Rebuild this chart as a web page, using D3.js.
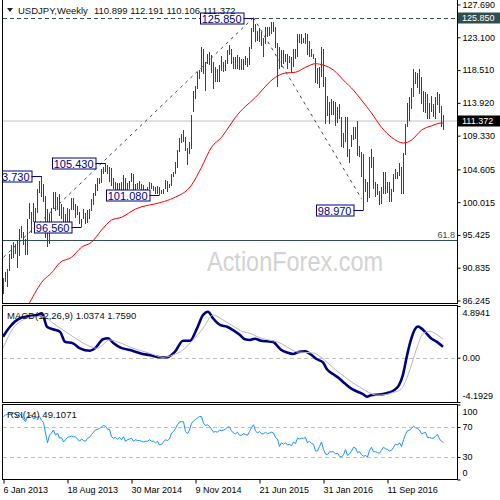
<!DOCTYPE html>
<html><head><meta charset="utf-8">
<script src="https://cdn.jsdelivr.net/npm/d3@7/dist/d3.min.js"></script>
<style>
body{margin:0;background:#fff}
svg{display:block}
text{font-family:"Liberation Sans",Arial,sans-serif}
</style>
</head><body>
<svg id="c" width="500" height="500"></svg>
<script>
// ---------- DATA ----------
const symbolTitle = "USDJPY,Weekly";
const lastOHLC = ["110.899", "112.191", "110.106", "111.372"];
const currentPrice = 111.372;

// weekly highs / lows, week 0 = 6 Jan 2013 ... week 220 = 26 Mar 2017
const highs = [
89.35,90.20,90.70,92.80,94.06,94.40,94.20,94.77,96.20,96.70,
95.90,94.90,97.60,99.95,98.60,99.95,99.20,101.90,103.00,103.73,
102.50,100.90,99.00,98.30,99.20,101.50,101.50,100.80,101.20,99.70,
99.30,98.30,99.20,99.10,100.60,100.60,99.70,99.50,98.60,97.70,
99.00,98.50,98.90,99.10,100.40,101.30,102.50,103.40,103.40,104.60,
105.00,105.43,
105.20,104.90,104.80,103.40,102.80,102.70,102.70,102.90,103.80,103.40,
102.70,103.00,104.10,103.90,102.60,102.70,103.00,102.50,102.40,101.90,
102.20,102.80,102.70,102.30,102.20,102.30,102.10,101.70,101.90,103.10,
103.00,102.50,104.00,104.20,105.70,107.30,109.00,109.50,110.10,109.10,
107.60,108.40,112.20,115.60,116.30,118.20,118.50,121.80,121.50,119.60,
120.80,121.00,
120.60,119.60,118.90,118.70,119.20,120.50,119.70,119.90,121.30,122.00,
121.40,120.30,120.40,120.60,120.40,120.10,120.00,120.50,120.20,121.80,
124.40,125.85,125.00,124.00,124.40,123.80,123.00,124.50,124.60,124.60,
125.30,125.30,124.60,122.30,121.70,121.30,121.30,120.80,120.70,120.50,
120.30,121.50,121.50,123.60,123.60,123.60,123.00,123.70,123.50,122.60,
121.50,120.80,
120.20,118.80,118.90,121.70,121.50,117.60,114.90,114.00,114.50,114.20,
114.00,113.30,113.80,111.90,109.70,111.90,111.90,107.50,109.40,110.60,
110.50,111.40,107.90,107.00,106.80,103.30,102.90,106.30,107.50,106.40,
102.80,102.60,101.60,102.10,104.20,104.20,102.80,102.80,101.80,104.00,
104.60,104.20,105.50,105.00,106.90,111.00,113.90,114.80,116.00,118.66,
118.20,118.10,
118.60,117.50,115.60,115.40,115.20,113.90,114.90,113.80,114.70,115.50,
115.20,113.50,112.191
];
const lows = [
87.10,88.80,88.10,90.40,92.10,92.20,92.80,90.85,92.50,95.00,
94.00,92.60,92.60,97.60,95.70,97.30,97.10,98.50,101.30,100.70,
100.00,94.98,93.79,94.20,96.90,99.00,98.80,98.90,98.10,97.60,
96.10,95.80,97.00,96.80,98.90,98.90,97.80,98.20,96.90,96.56,
97.70,96.90,97.10,97.60,98.80,99.60,100.90,101.60,102.60,102.70,
104.00,104.20,
103.90,102.90,102.30,101.80,100.76,101.40,101.30,101.70,101.20,101.20,
101.20,101.90,102.80,101.30,101.40,101.90,101.80,101.40,101.30,100.80,
101.50,101.80,101.90,101.60,101.20,101.20,101.08,101.10,101.10,101.80,
101.50,102.00,102.30,103.50,103.90,104.80,107.00,108.30,108.50,107.20,
105.20,106.80,107.40,112.60,114.50,115.90,117.20,118.20,117.90,115.60,
119.40,119.20,
118.10,115.90,116.90,116.90,116.90,118.40,118.20,118.40,119.40,120.60,
119.30,118.70,118.70,118.70,118.50,118.50,118.50,119.20,118.90,119.20,
121.50,123.90,122.40,122.60,122.50,121.90,120.40,122.10,123.10,123.30,
123.60,123.80,121.60,116.20,118.60,118.90,119.30,119.60,118.70,119.50,
118.10,118.90,120.00,120.30,122.30,122.20,122.30,122.20,120.60,120.40,
120.30,120.10,
116.70,116.50,115.97,117.60,116.20,110.98,112.10,111.00,112.20,112.20,
110.70,111.10,111.60,107.70,107.60,108.50,106.30,105.55,107.80,108.70,
108.80,106.50,106.30,103.60,98.97,101.40,99.99,100.60,104.80,101.90,
100.70,101.00,99.55,99.80,101.20,101.20,101.30,100.10,100.10,101.40,
103.30,103.20,103.70,101.20,101.20,106.60,110.60,111.40,113.00,114.80,
116.50,116.00,
115.10,113.80,112.60,112.50,111.60,111.60,112.60,111.90,111.70,113.60,
112.50,110.60,110.106
];

// moving average (red), read at these weeks
const maWeek  = [13,20,24,28,34,39,44,49,54,59,66,79,85,94,99,104,109,114,116,126,136,141,146,151,156,160,165,171,174,179,184,189,194,200,204,209,214,219,220];
const maValue = [85.9,89.1,90.1,91.5,92.3,93.7,94.4,96.1,97.5,97.9,99.05,100.0,100.6,102.4,104.9,107.7,109.1,111.1,111.9,114.7,117.5,118.1,118.2,118.9,119.4,119.2,118.5,116.8,116.0,114.3,112.5,110.5,109.1,108.3,108.7,110.1,110.7,111.1,111.1];

// MACD(12,26,9)
const macdWeek  = [0,3.5,8.5,13.5,17,19.5,22,25,28.5,31,35,38.5,43.5,46,50,52.5,55,58.5,63.5,68.5,73.5,78.5,82,86,90,93.5,97,100,102.5,105,108.5,112,115,118.5,121,123.5,126,129,132,135,137,139,142,145,148,151,154,157,160,162,165,168,171,174,177,180,182,184,187,190,193,196,198,200,202,204,206,207.5,209,211,214,217,220];
const macdValue = [1.99,2.93,3.73,3.95,4.04,4.20,2.93,2.69,2.46,1.51,1.36,0.89,0.66,0.89,1.74,1.84,1.42,0.98,0.73,0.42,0.23,0.04,0.04,0.57,1.61,1.61,2.78,4.04,4.35,3.73,3.10,2.93,2.62,2.15,1.74,1.68,1.80,1.60,1.55,1.50,1.15,0.75,0.50,0.35,0.55,0.60,0.30,-0.15,-0.45,-1.10,-1.55,-1.95,-2.45,-2.90,-3.20,-3.45,-3.70,-3.55,-3.50,-3.45,-3.30,-3.00,-2.60,-1.60,0.20,1.70,2.70,2.95,2.80,2.45,1.85,1.50,1.04];
const signalWeek  = [0,5,10,15,20,25,30,35,42,47,53.5,58.5,65,73.5,80,85,90,95,100,105,110,115,120,123.5,127,131,135,139,143,147,151,155,159,163,167,171,175,179,183,187,191,195,199,202,205,208,210,213.5,216,218,220];
const signalValue = [0.89,2.78,3.57,3.88,3.88,3.26,2.62,1.99,1.20,0.89,1.68,1.42,0.89,0.42,0.04,0.26,0.73,1.68,2.78,4.04,3.57,3.00,2.46,2.31,2.00,1.75,1.60,1.35,0.90,0.55,0.50,0.45,0.05,-0.60,-1.25,-1.85,-2.40,-2.85,-3.30,-3.55,-3.50,-3.30,-3.00,-1.90,-0.20,1.50,2.30,2.50,2.30,2.05,1.76];
const macdLabel = "MACD(12,26,9) 1.0374 1.7590";

// RSI(14), one value per week
const rsiValues = [
84,86,87,89,88,89,88,83,88,85, 80,77,84,85,86,81,82,83,84,79,
76,62,49,59,62,66,59,62,55,56, 50,53,56,57,58,57,57,54,51,54,
52,51,55,56,60,63,66,67,68,70, 72,71,67,67,57,55,56,54,56,53,
57,51,53,54,55,51,53,52,52,51, 50,51,51,53,51,51,49,51,46,47,
50,53,52,54,62,64,68,73,77,77, 77,64,61,66,75,78,80,82,84,84,
75,72,73,71,67,63,64,63,66,65, 66,67,70,70,65,62,61,63,59,59,
61,60,59,64,69,73,65,62,64,61, 61,63,61,62,63,62,56,54,44,49,
47,49,46,47,45,50,48,55,54,55, 55,56,49,51,48,47,38,38,44,50,
40,34,33,37,37,37,34,35,31,30, 33,40,32,34,38,43,42,36,37,33,
31,32,30,39,43,37,37,36,35,39, 43,41,40,38,39,43,47,46,49,44,
53,60,65,66,68,71,69,68,66,61, 62,63,56,56,55,55,58,60,54,51,
49.1071
];
const rsiLabel = "RSI(14) 49.1071";

// axes
const priceTicks = [127.690,123.100,118.510,113.920,109.330,104.605,100.015,95.425,90.835,86.245];
const macdTicks = [4.8941, 0, -4.1929];
const macdTickLabels = ["4.8941", "0.00", "-4.1929"];
const rsiTicks = [100, 70, 30, 0];
const rsiLevels = [70, 30];
const dateTickWeeks = [0, 32, 64, 96, 128, 160, 192];
const dateTickLabels = ["6 Jan 2013", "18 Aug 2013", "30 Mar 2014", "9 Nov 2014", "21 Jun 2015", "31 Jan 2016", "11 Sep 2016"];

// annotations
const swingWeeks  = [19, 51, 39, 78, 125, 180];
const swingPrices = [103.73, 105.43, 96.56, 101.08, 125.85, 98.97];
const swingTexts  = ["103.730", "105.430", "96.560", "101.080", "125.850", "98.970"];
const trendStartWeek  = [0, 125];
const trendStartPrice = [92.3, 125.85];
const trendEndWeek    = [125, 179];
const trendEndPrice   = [125.85, 100.5];
const peakLevel = 125.85;
const fibLevel = 94.78, fibText = "61.8";
const watermark = "ActionForex.com";

// ---------- DRAW ----------
const svg = d3.select("#c");
const L = 3, R = 457;
const ink = "#2f4f4f", barColor = "#1b4b66", navy = "#000080";

const x  = d3.scaleLinear().domain([0, 220]).range([3, 443]);
const yP = d3.scaleLinear().domain([86.245, 127.69]).range([300.5, 4.5]);
const yM = d3.scaleLinear().domain([-4.1929, 4.8941]).range([402, 306]);
const yR = d3.scaleLinear().domain([0, 100]).range([479.5, 404.5]);

const defs = svg.append("defs");
defs.append("clipPath").attr("id", "cMain").append("rect").attr("x", L).attr("y", 0).attr("width", R - L).attr("height", 303);
defs.append("clipPath").attr("id", "cMacd").append("rect").attr("x", L).attr("y", 306).attr("width", R - L).attr("height", 96);
defs.append("clipPath").attr("id", "cRsi").append("rect").attr("x", L).attr("y", 405).attr("width", R - L).attr("height", 74);

// watermark
svg.append("text").attr("x", 295).attr("y", 271).attr("text-anchor", "middle")
  .attr("font-size", 27).attr("fill", "#d2d2d2")
  .attr("textLength", 176).attr("lengthAdjust", "spacingAndGlyphs").text(watermark);

const gMain = svg.append("g").attr("clip-path", "url(#cMain)");

// horizontal levels
gMain.append("line").attr("x1", L).attr("x2", R).attr("y1", yP(currentPrice)).attr("y2", yP(currentPrice))
  .attr("stroke", "#c0c0c0");
gMain.append("line").attr("x1", L).attr("x2", R).attr("y1", Math.round(yP(fibLevel)) + 0.5).attr("y2", Math.round(yP(fibLevel)) + 0.5)
  .attr("stroke", ink);
gMain.append("line").attr("x1", L).attr("x2", R).attr("y1", Math.round(yP(peakLevel)) + 0.5).attr("y2", Math.round(yP(peakLevel)) + 0.5)
  .attr("stroke", ink).attr("stroke-dasharray", "4,3");
gMain.append("text").attr("x", 455).attr("y", yP(fibLevel) - 2).attr("text-anchor", "end")
  .attr("font-size", 9).attr("fill", ink).text(fibText);

// bars
gMain.append("g").attr("shape-rendering", "crispEdges").selectAll("rect").data(highs).join("rect")
  .attr("x", (d, i) => x(i)).attr("width", 1)
  .attr("y", d => Math.round(yP(d)))
  .attr("height", (d, i) => Math.max(1, Math.round(yP(lows[i])) - Math.round(yP(d))))
  .attr("fill", barColor);

// MA
gMain.append("path").datum(maWeek.map((w, i) => [w, maValue[i]]))
  .attr("d", d3.line().x(d => x(d[0]) + 0.5).y(d => yP(d[1])).curve(d3.curveMonotoneX))
  .attr("fill", "none").attr("stroke", "#ff0000").attr("stroke-width", 1);

// trend lines
gMain.selectAll("line.trend").data(trendStartWeek).join("line").attr("class", "trend")
  .attr("x1", (d) => x(d) + 0.5).attr("y1", (d, i) => yP(trendStartPrice[i]))
  .attr("x2", (d, i) => x(trendEndWeek[i]) + 0.5).attr("y2", (d, i) => yP(trendEndPrice[i]))
  .attr("stroke", "#3b4b4b").attr("stroke-dasharray", "3,4");

// swing labels
swingWeeks.forEach((w, i) => {
  const bx = x(w) + 0.5, py = Math.round(yP(swingPrices[i])) + 0.5, right = bx - 10;
  const g = gMain.append("g");
  const rect = g.append("rect");
  const t = g.append("text").attr("x", right - 2).attr("y", py + 4).attr("text-anchor", "end")
    .attr("font-size", 11).attr("fill", navy).text(swingTexts[i]);
  const tw = t.node().getComputedTextLength();
  rect.attr("x", Math.round(right - tw - 4) + 0.5).attr("y", py - 5.5).attr("width", Math.round(tw + 4) - 0.5).attr("height", 11)
    .attr("fill", "#fff").attr("stroke", navy);
  g.append("line").attr("x1", right).attr("x2", bx).attr("y1", py).attr("y2", py).attr("stroke", navy);
});

// header
svg.append("path").attr("d", "M7,8 L13,8 L10,12 Z").attr("fill", "#222");
const hdr = svg.append("text").attr("x", 18).attr("y", 13.5).attr("font-size", 9.5).attr("fill", "#111");
hdr.append("tspan").text(symbolTitle);
hdr.append("tspan").attr("dx", 6).text(lastOHLC.join(" "));

// MACD panel
const gM = svg.append("g").attr("clip-path", "url(#cMacd)");
gM.append("line").attr("x1", L).attr("x2", R).attr("y1", Math.round(yM(0)) + 0.5).attr("y2", Math.round(yM(0)) + 0.5)
  .attr("stroke", "#c0c0c0").attr("stroke-dasharray", "4,3");
gM.append("path").datum(macdWeek.map((w, i) => [w, macdValue[i]]))
  .attr("d", d3.line().x(d => x(d[0])).y(d => yM(d[1])).curve(d3.curveMonotoneX))
  .attr("fill", "none").attr("stroke", navy).attr("stroke-width", 2.6);
gM.append("path").datum(signalWeek.map((w, i) => [w, signalValue[i]]))
  .attr("d", d3.line().x(d => x(d[0])).y(d => yM(d[1])).curve(d3.curveMonotoneX))
  .attr("fill", "none").attr("stroke", "#b8b8b8").attr("stroke-width", 1);
svg.append("text").attr("x", 7).attr("y", 318.5).attr("font-size", 9.5).attr("fill", "#111").text(macdLabel);

// RSI panel
const gR = svg.append("g").attr("clip-path", "url(#cRsi)");
gR.selectAll("line.lvl").data(rsiLevels).join("line").attr("class", "lvl")
  .attr("x1", L).attr("x2", R).attr("y1", d => Math.round(yR(d)) + 0.5).attr("y2", d => Math.round(yR(d)) + 0.5)
  .attr("stroke", "#c0c0c0").attr("stroke-dasharray", "4,3");
gR.append("path").datum(rsiValues)
  .attr("d", d3.line().x((d, i) => x(i) + 0.5).y(d => yR(d)))
  .attr("fill", "none").attr("stroke", "#1e90ff").attr("stroke-width", 1);
svg.append("text").attr("x", 7).attr("y", 417.5).attr("font-size", 9.5).attr("fill", "#111").text(rsiLabel);

// panel borders
const border = svg.append("g").attr("fill", "none").attr("stroke", "#000").attr("shape-rendering", "crispEdges");
border.append("path").attr("d", `M${L - 0.5},0 V303.5 H${R + 0.5} V0`);
border.append("rect").attr("x", L - 0.5).attr("y", 305.5).attr("width", R - L + 1).attr("height", 97);
border.append("rect").attr("x", L - 0.5).attr("y", 404.5).attr("width", R - L + 1).attr("height", 75);

// axes
function styleAxis(g) {
  g.select(".domain").remove();
  g.selectAll("text").attr("font-size", 9).attr("fill", "#000").attr("font-family", '"Liberation Sans",Arial,sans-serif');
  g.selectAll("line").attr("stroke", "#000");
}
svg.append("g").attr("transform", `translate(${R + 0.5},0)`)
  .call(d3.axisRight(yP).tickValues(priceTicks).tickSize(3).tickPadding(2).tickFormat(d3.format(".3f")))
  .call(styleAxis);

// highlighted price labels
[[peakLevel, ink], [currentPrice, "#000"]].forEach(([v, col]) => {
  const yy = yP(v);
  svg.append("rect").attr("x", 458).attr("y", Math.round(yy) - 5.5).attr("width", 42).attr("height", 11).attr("fill", col);
  svg.append("text").attr("x", 462).attr("y", yy + 3.3).attr("font-size", 9).attr("fill", "#fff").text(d3.format(".3f")(v));
});

const axM = svg.append("g").attr("transform", `translate(${R + 0.5},0)`)
  .call(d3.axisRight(yM).tickValues(macdTicks).tickSize(3).tickPadding(2).tickFormat((d, i) => macdTickLabels[i]))
  .call(styleAxis);
axM.selectAll(".tick text").attr("dy", (d, i) => i === 0 ? "1.05em" : (i === 2 ? "-0.35em" : "0.32em"));

const axR = svg.append("g").attr("transform", `translate(${R + 0.5},0)`)
  .call(d3.axisRight(yR).tickValues(rsiTicks).tickSize(3).tickPadding(2))
  .call(styleAxis);
axR.selectAll(".tick text").attr("dy", (d, i) => i === 0 ? "1.1em" : (i === 3 ? "-0.45em" : "0.32em"));

const axB = svg.append("g").attr("transform", "translate(0.5,479.5)")
  .call(d3.axisBottom(x).tickValues(dateTickWeeks).tickSize(4).tickPadding(3).tickFormat((d, i) => dateTickLabels[i]))
  .call(styleAxis);
axB.selectAll(".tick text").attr("text-anchor", "start").attr("dx", -0.5);
</script>
</body></html>
